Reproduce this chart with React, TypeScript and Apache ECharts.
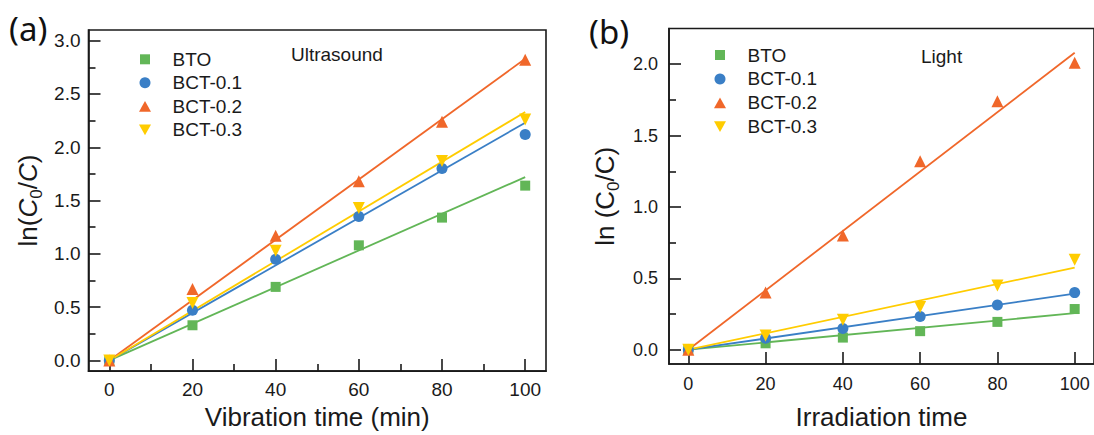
import React, { useEffect, useRef } from "react";
import * as echarts from "echarts";

// ---------- data ----------
const time = [0, 20, 40, 60, 80, 100];
const seriesNames = ["BTO", "BCT-0.1", "BCT-0.2", "BCT-0.3"];

// (a) Ultrasound
const usBTO = [0, 0.33, 0.69, 1.08, 1.34, 1.64];
const usBCT01 = [0, 0.47, 0.95, 1.35, 1.8, 2.12];
const usBCT02 = [0, 0.67, 1.17, 1.68, 2.24, 2.82];
const usBCT03 = [0, 0.54, 1.03, 1.43, 1.87, 2.26];
// linear fits (value at t = 0 and t = 100)
const fitT = [0, 100];
const usFitBTO = [0, 1.72];
const usFitBCT01 = [0, 2.23];
const usFitBCT02 = [0, 2.83];
const usFitBCT03 = [0, 2.33];

// (b) Light
const ltBTO = [0, 0.045, 0.085, 0.13, 0.195, 0.285];
const ltBCT01 = [0, 0.08, 0.148, 0.233, 0.313, 0.4];
const ltBCT02 = [0, 0.4, 0.8, 1.32, 1.74, 2.01];
const ltBCT03 = [0, 0.1, 0.21, 0.3, 0.45, 0.63];
const ltFitBTO = [0, 0.256];
const ltFitBCT01 = [0, 0.393];
const ltFitBCT02 = [0, 2.08];
const ltFitBCT03 = [0, 0.575];

// ticks
const xTicks = [0, 20, 40, 60, 80, 100];
const xMinorA = [10, 30, 50, 70, 90];
const yTicksA = [0, 0.5, 1, 1.5, 2, 2.5, 3];
const yMinorA = [0.25, 0.75, 1.25, 1.75, 2.25, 2.75];
const yTicksB = [0, 0.5, 1, 1.5, 2];
const yMinorB = [0.25, 0.75, 1.25, 1.75];

// ---------- styles ----------
const colors = ["#62b657", "#3a7fc6", "#f0672a", "#ffcc00"];
const symbols = ["rect", "circle", "triangle", "triangle"];
const symbolSizes = [10, 11, 12, 12];
const symbolRotates = [0, 0, 0, 180];
const legendIcons = [
  "rect",
  "circle",
  "path://M5,0 L10,9 L0,9 Z",
  "path://M0,0 L10,0 L5,9 Z",
];
const legendIconSizes = [10, 11, 12, 12];
const FONT = "Liberation Sans, Arial, sans-serif";
const INK = "#1a1a1a";

function zip(xs: number[], ys: number[]) {
  return xs.map((x, i) => [x, ys[i]]);
}

function makeSeries(
  values: number[][],
  fits: number[][],
  xAxisIndex: number,
  yAxisIndex: number
) {
  const out: any[] = [];
  fits.forEach((f, i) => {
    out.push({
      type: "line",
      name: seriesNames[i] + " fit",
      xAxisIndex,
      yAxisIndex,
      data: zip(fitT, f),
      showSymbol: false,
      symbol: "none",
      lineStyle: { color: colors[i], width: 1.8 },
      z: 2,
      silent: true,
    });
  });
  values.forEach((v, i) => {
    out.push({
      type: "scatter",
      name: seriesNames[i],
      xAxisIndex,
      yAxisIndex,
      data: zip(time, v),
      symbol: symbols[i],
      symbolSize: symbolSizes[i],
      symbolRotate: symbolRotates[i],
      itemStyle: { color: colors[i], opacity: 1 },
      z: 3,
    });
  });
  return out;
}

function majorX(grid: number, min: number, max: number, name: string, nameGap: number, margin: number, fontSize: number) {
  return {
    type: "value",
    gridIndex: grid,
    position: "bottom",
    min,
    max,
    name,
    nameLocation: "middle",
    nameGap,
    nameTextStyle: { fontSize: 26, fontFamily: FONT, color: INK },
    axisLine: { show: true, onZero: false, lineStyle: { color: INK, width: 1.6 } },
    axisTick: { show: true, inside: true, length: 12, customValues: xTicks, lineStyle: { color: INK, width: 1.6 } },
    axisLabel: { show: true, customValues: xTicks, margin, fontSize, fontFamily: FONT, color: INK },
    splitLine: { show: false },
  };
}

function minorAxis(type: "x" | "y", grid: number, min: number, max: number, vals: number[]) {
  return {
    type: "value",
    gridIndex: grid,
    position: type === "x" ? "bottom" : "left",
    min,
    max,
    axisLine: { show: false, onZero: false },
    axisTick: { show: true, inside: true, length: 7, customValues: vals, lineStyle: { color: INK, width: 1.6 } },
    axisLabel: { show: false },
    splitLine: { show: false },
  };
}

function majorY(grid: number, min: number, max: number, ticks: number[], name: string, rich: any, nameGap: number, margin: number, fontSize: number) {
  return {
    type: "value",
    gridIndex: grid,
    position: "left",
    min,
    max,
    name,
    nameLocation: "middle",
    nameGap,
    nameTextStyle: { fontSize: 26, fontFamily: FONT, color: INK, rich },
    axisLine: { show: true, onZero: false, lineStyle: { color: INK, width: 1.6 } },
    axisTick: { show: true, inside: true, length: 12, customValues: ticks, lineStyle: { color: INK, width: 1.6 } },
    axisLabel: {
      show: true,
      customValues: ticks,
      margin,
      fontSize,
      fontFamily: FONT,
      color: INK,
      formatter: (v: number) => v.toFixed(1),
    },
    splitLine: { show: false },
  };
}

function makeLegend(left: number, top: number, rowH: number) {
  // each row is laid out as its own one-item legend so icon sizes stay exact
  return seriesNames.map((name, i) => ({
    data: [{ name, icon: legendIcons[i] }],
    orient: "vertical",
    left: left - legendIconSizes[i] / 2,
    top: top + rowH * i - 12,
    padding: 0,
    itemGap: 0,
    itemWidth: legendIconSizes[i],
    itemHeight: legendIconSizes[i] * (i >= 2 ? 0.9 : 1),
    textStyle: {
      fontSize: 19,
      fontFamily: FONT,
      color: INK,
      lineHeight: 24,
      padding: [0, 0, 0, 27.5 - 5 - legendIconSizes[i] / 2],
    },
    selectedMode: false,
  }));
}

export default function App() {
  const ref = useRef<HTMLDivElement>(null);

  useEffect(() => {
    if (!ref.current) return;
    const chart = echarts.init(ref.current, undefined, { renderer: "svg" });

    const subRich = {
      sub: { fontSize: 17, lineHeight: 17, verticalAlign: "bottom", fontFamily: FONT, color: INK },
      n: { fontSize: 26, lineHeight: 34, fontFamily: FONT, color: INK },
      i: { fontSize: 26, lineHeight: 34, fontStyle: "italic", fontFamily: FONT, color: INK },
    };

    const option: any = {
      animation: false,
      backgroundColor: "#ffffff",
      grid: [
        { left: 88.5, top: 30, width: 457.5, height: 345, show: true, borderColor: INK, borderWidth: 1.6, containLabel: false },
        { left: 669, top: 28.5, width: 427, height: 343.5, show: true, borderColor: INK, borderWidth: 1.6, containLabel: false },
      ],
      xAxis: [
        majorX(0, -5, 105, "Vibration time (min)", 30, 9, 19),
        minorAxis("x", 0, -5, 105, xMinorA),
        majorX(1, -5, 105, "Irradiation time", 40, 11, 18),
      ],
      yAxis: [
        majorY(0, -0.1, 3.1, yTicksA, "{n|ln(}{i|C}{sub|0}{n|/}{i|C}{n|)}", subRich, 44, 8, 19),
        minorAxis("y", 0, -0.1, 3.1, yMinorA),
        majorY(1, -0.1, 2.25, yTicksB, "{n|ln (C}{sub|0}{n|/C)}", subRich, 47, 11, 18),
        minorAxis("y", 1, -0.1, 2.25, yMinorB),
      ],
      legend: [...makeLegend(145, 59.3, 23.5), ...makeLegend(720, 55, 23.9)],
      graphic: [
        { type: "text", left: 9, top: 12, style: { text: "(a)", fontSize: 33, fontFamily: "Noto Sans, sans-serif", fill: "#111" } },
        { type: "text", left: 589, top: 15, style: { text: "(b)", fontSize: 33, fontFamily: "Noto Sans, sans-serif", fill: "#111" } },
        { type: "text", left: 291, top: 44.5, style: { text: "Ultrasound", fontSize: 19, fontFamily: FONT, fill: INK } },
        { type: "text", left: 921, top: 46.5, style: { text: "Light", fontSize: 19, fontFamily: FONT, fill: INK } },
      ],
      series: [
        ...makeSeries([usBTO, usBCT01, usBCT02, usBCT03], [usFitBTO, usFitBCT01, usFitBCT02, usFitBCT03], 0, 0),
        ...makeSeries([ltBTO, ltBCT01, ltBCT02, ltBCT03], [ltFitBTO, ltFitBCT01, ltFitBCT02, ltFitBCT03], 2, 2),
      ],
    };

    chart.setOption(option);
    return () => chart.dispose();
  }, []);

  return (
    <div
      ref={ref}
      style={{ position: "fixed", left: 0, top: 0, width: 1094, height: 435, background: "#fff" }}
    />
  );
}
